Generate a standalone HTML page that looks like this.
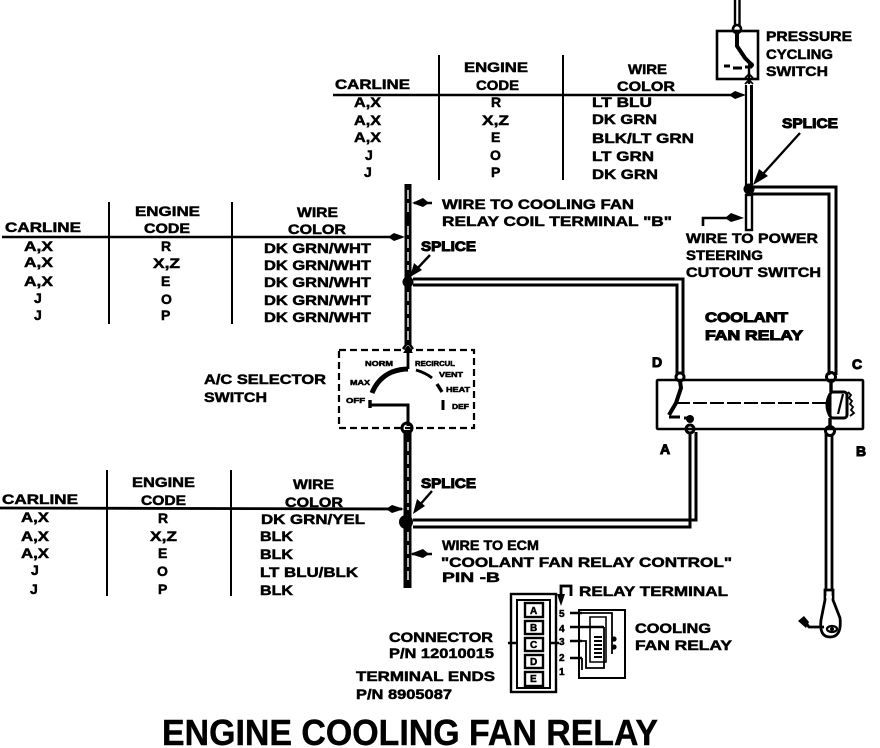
<!DOCTYPE html>
<html><head><meta charset="utf-8"><style>
html,body{margin:0;padding:0;background:#fff}
svg{display:block}
text{font-family:"Liberation Sans",sans-serif;font-weight:bold;font-size:14px;fill:#000;stroke:#000;stroke-width:.5}
.h{stroke-width:1}
line,path,rect,polyline,circle,ellipse{stroke:#000;fill:none}
.f{fill:#000;stroke:none}
</style></head><body>
<svg width="880" height="748" viewBox="0 0 880 748" xmlns="http://www.w3.org/2000/svg">
<!-- TOP TABLE -->
<g>
<line x1="333" y1="95" x2="742" y2="95" stroke-width="2.4"/>
<line x1="439" y1="55" x2="439" y2="180" stroke-width="2"/>
<line x1="563" y1="55" x2="563" y2="180" stroke-width="2"/>
<text x="335" y="89" textLength="75" lengthAdjust="spacingAndGlyphs">CARLINE</text>
<text x="464" y="72" textLength="64" lengthAdjust="spacingAndGlyphs">ENGINE</text>
<text x="476" y="90" textLength="43" lengthAdjust="spacingAndGlyphs">CODE</text>
<text x="628" y="74" textLength="39" lengthAdjust="spacingAndGlyphs">WIRE</text>
<text x="617" y="91" textLength="58" lengthAdjust="spacingAndGlyphs">COLOR</text>
<text x="354" y="107" textLength="27" lengthAdjust="spacingAndGlyphs">A,X</text>
<text x="354" y="125" textLength="27" lengthAdjust="spacingAndGlyphs">A,X</text>
<text x="354" y="142" textLength="27" lengthAdjust="spacingAndGlyphs">A,X</text>
<text x="365" y="160">J</text><text x="364" y="177">J</text>
<text x="491" y="107">R</text>
<text x="482" y="125" textLength="27" lengthAdjust="spacingAndGlyphs">X,Z</text>
<text x="491" y="142">E</text><text x="490" y="160">O</text><text x="491" y="177">P</text>
<text x="592" y="107" textLength="60" lengthAdjust="spacingAndGlyphs">LT BLU</text>
<text x="592" y="124" textLength="65" lengthAdjust="spacingAndGlyphs">DK GRN</text>
<text x="592" y="143" textLength="102" lengthAdjust="spacingAndGlyphs">BLK/LT GRN</text>
<text x="592" y="161" textLength="62" lengthAdjust="spacingAndGlyphs">LT GRN</text>
<text x="592" y="179" textLength="66" lengthAdjust="spacingAndGlyphs">DK GRN</text>
</g>
<!-- MIDDLE TABLE -->
<g>
<line x1="2" y1="237" x2="402" y2="237" stroke-width="2.4"/>
<line x1="109" y1="202" x2="109" y2="324" stroke-width="2"/>
<line x1="232" y1="202" x2="232" y2="324" stroke-width="2"/>
<text x="5" y="232" textLength="76" lengthAdjust="spacingAndGlyphs">CARLINE</text>
<text x="135" y="216" textLength="65" lengthAdjust="spacingAndGlyphs">ENGINE</text>
<text x="144" y="233" textLength="46" lengthAdjust="spacingAndGlyphs">CODE</text>
<text x="297" y="217" textLength="41" lengthAdjust="spacingAndGlyphs">WIRE</text>
<text x="288" y="234" textLength="58" lengthAdjust="spacingAndGlyphs">COLOR</text>
<text x="24" y="251" textLength="29" lengthAdjust="spacingAndGlyphs">A,X</text>
<text x="24" y="267" textLength="29" lengthAdjust="spacingAndGlyphs">A,X</text>
<text x="24" y="286" textLength="29" lengthAdjust="spacingAndGlyphs">A,X</text>
<text x="34" y="303">J</text><text x="34" y="320">J</text>
<text x="161" y="251">R</text>
<text x="153" y="268" textLength="27" lengthAdjust="spacingAndGlyphs">X,Z</text>
<text x="161" y="286">E</text><text x="161" y="304">O</text><text x="161" y="320">P</text>
<text x="264" y="253" textLength="107" lengthAdjust="spacingAndGlyphs">DK GRN/WHT</text>
<text x="264" y="270" textLength="107" lengthAdjust="spacingAndGlyphs">DK GRN/WHT</text>
<text x="264" y="287" textLength="107" lengthAdjust="spacingAndGlyphs">DK GRN/WHT</text>
<text x="264" y="305" textLength="107" lengthAdjust="spacingAndGlyphs">DK GRN/WHT</text>
<text x="264" y="322" textLength="107" lengthAdjust="spacingAndGlyphs">DK GRN/WHT</text>
</g>
<!-- BOTTOM TABLE -->
<g>
<line x1="0" y1="508" x2="402" y2="509" stroke-width="2.8"/>
<line x1="107" y1="470" x2="107" y2="596" stroke-width="2"/>
<line x1="231" y1="470" x2="231" y2="596" stroke-width="2"/>
<text x="2" y="504" textLength="76" lengthAdjust="spacingAndGlyphs">CARLINE</text>
<text x="132" y="487" textLength="63" lengthAdjust="spacingAndGlyphs">ENGINE</text>
<text x="141" y="505" textLength="45" lengthAdjust="spacingAndGlyphs">CODE</text>
<text x="293" y="489" textLength="41" lengthAdjust="spacingAndGlyphs">WIRE</text>
<text x="285" y="507" textLength="58" lengthAdjust="spacingAndGlyphs">COLOR</text>
<text x="21" y="522" textLength="28" lengthAdjust="spacingAndGlyphs">A,X</text>
<text x="21" y="541" textLength="28" lengthAdjust="spacingAndGlyphs">A,X</text>
<text x="21" y="558" textLength="28" lengthAdjust="spacingAndGlyphs">A,X</text>
<text x="31" y="575">J</text><text x="30" y="594">J</text>
<text x="158" y="523">R</text>
<text x="150" y="541" textLength="27" lengthAdjust="spacingAndGlyphs">X,Z</text>
<text x="158" y="558">E</text><text x="157" y="576">O</text><text x="158" y="594">P</text>
<text x="261" y="524" textLength="104" lengthAdjust="spacingAndGlyphs">DK GRN/YEL</text>
<text x="260" y="541" textLength="33" lengthAdjust="spacingAndGlyphs">BLK</text>
<text x="260" y="559" textLength="33" lengthAdjust="spacingAndGlyphs">BLK</text>
<text x="260" y="577" textLength="98" lengthAdjust="spacingAndGlyphs">LT BLU/BLK</text>
<text x="260" y="595" textLength="33" lengthAdjust="spacingAndGlyphs">BLK</text>
</g>
<!-- table arrowheads -->
<polygon class="f" points="729,95 735,91 746,95 735,99"/>
<polygon class="f" points="388,237 394,233 405,237 394,241"/>
<polygon class="f" points="386,509 392,505 404,509 392,513"/>
<!-- PRESSURE SWITCH -->
<rect x="717" y="31" width="41" height="48" stroke-width="2.6"/>
<line x1="735" y1="0" x2="735" y2="26" stroke-width="2.4"/><line x1="739.5" y1="0" x2="739.5" y2="26" stroke-width="2.4"/>
<circle cx="737" cy="29" r="4" stroke-width="2.6"/>
<path d="M737 34 L737 46 L745 58 L751 64" stroke-width="4"/>
<circle cx="751" cy="65" r="3" class="f"/>
<path d="M724 66 H730 M733 68 H742 M745 67 H752" stroke-width="3"/>
<line x1="749" y1="66" x2="749" y2="84" stroke-width="2.4"/>
<path d="M745 78 L749 74 L753 78 M745 84 L749 80 L753 84" stroke-width="1.8"/>
<text x="766" y="41" textLength="86" lengthAdjust="spacingAndGlyphs">PRESSURE</text>
<text x="766" y="59" textLength="67" lengthAdjust="spacingAndGlyphs">CYCLING</text>
<text x="766" y="76" textLength="62" lengthAdjust="spacingAndGlyphs">SWITCH</text>
<!-- Right vertical wire pair -->
<line x1="746" y1="85" x2="746" y2="185" stroke-width="2.2"/>
<line x1="751.5" y1="85" x2="751.5" y2="185" stroke-width="3"/>
<circle cx="749" cy="189" r="5.5" class="f"/>
<rect x="746" y="195" width="6" height="35" stroke-width="2.4"/>
<!-- splice top -->
<text x="782" y="128" class="h" font-size="15" textLength="56" lengthAdjust="spacingAndGlyphs">SPLICE</text>
<line x1="800" y1="133" x2="762" y2="175" stroke-width="2.4"/>
<polygon class="f" points="753,185 759,169 768,176"/>
<!-- wire to C -->
<path d="M752 187 H836 V375" stroke-width="3"/>
<path d="M752 194 H829 V375" stroke-width="3"/>
<!-- Wire to power steering -->
<path d="M703 226 V218 H738" stroke-width="2.6"/>
<polygon class="f" points="725,218 731,213 744,218 731,222"/>
<text x="686" y="243" textLength="132" lengthAdjust="spacingAndGlyphs">WIRE TO POWER</text>
<text x="686" y="260" textLength="77" lengthAdjust="spacingAndGlyphs">STEERING</text>
<text x="686" y="277" textLength="135" lengthAdjust="spacingAndGlyphs">CUTOUT SWITCH</text>
<!-- Left main wire -->
<rect x="404.5" y="184" width="7" height="161" class="f"/>
<path d="M403 349 L408 342 L413 349" stroke-width="2.4"/>
<polygon class="f" points="404,350 408,345 412,350"/>
<rect x="403.5" y="430" width="8" height="158" class="f"/>
<circle cx="408" cy="282" r="5.5" class="f"/>
<circle cx="406" cy="522" r="7" class="f"/>
<circle cx="407" cy="428" r="5" stroke-width="3"/>
<!-- hatch to suggest heavy wires -->
<path d="M408 190 V215 M408 226 V270 M408 292 V340 M408 442 V510 M408 532 V580" style="stroke:#fff;stroke-width:1.4;stroke-dasharray:9 4"/>
<line x1="414" y1="203" x2="432" y2="203" stroke-width="2.4"/>
<polygon class="f" points="412,203 423,198 429,203 423,207"/>
<text x="442" y="209" textLength="192" lengthAdjust="spacingAndGlyphs">WIRE TO COOLING FAN</text>
<text x="442" y="226" textLength="230" lengthAdjust="spacingAndGlyphs">RELAY COIL TERMINAL "B"</text>
<text x="421" y="251" class="h" textLength="55" lengthAdjust="spacingAndGlyphs">SPLICE</text>
<line x1="430" y1="255" x2="414" y2="272" stroke-width="2.4"/>
<polygon class="f" points="410,277 414,263 422,270"/>
<!-- wire to D -->
<path d="M413 279 H683 V375" stroke-width="3"/>
<path d="M413 285 H677 V375" stroke-width="3"/>
<!-- A/C switch -->
<rect x="339" y="350" width="135" height="78" stroke-width="2.2" stroke-dasharray="7 4"/>
<text x="204" y="384" textLength="122" lengthAdjust="spacingAndGlyphs">A/C SELECTOR</text>
<text x="204" y="402" textLength="63" lengthAdjust="spacingAndGlyphs">SWITCH</text>
<g>
<text x="365" y="366" style="font-size:7px" textLength="28" lengthAdjust="spacingAndGlyphs">NORM</text>
<text x="415" y="366" style="font-size:7px" textLength="40" lengthAdjust="spacingAndGlyphs">RECIRCUL</text>
<text x="439" y="377" style="font-size:7px" textLength="24" lengthAdjust="spacingAndGlyphs">VENT</text>
<text x="350" y="385" style="font-size:7px" textLength="20" lengthAdjust="spacingAndGlyphs">MAX</text>
<text x="446" y="392" style="font-size:7px" textLength="24" lengthAdjust="spacingAndGlyphs">HEAT</text>
<text x="346" y="403" style="font-size:7px" textLength="19" lengthAdjust="spacingAndGlyphs">OFF</text>
<text x="452" y="409" style="font-size:7px" textLength="17" lengthAdjust="spacingAndGlyphs">DEF</text>
</g>
<path d="M372 393 Q378 378 392 372 Q400 369 408 369" stroke-width="5"/>
<path d="M416 370 Q426 373 432 378" stroke-width="3"/>
<path d="M437 384 L442 392" stroke-width="3.4"/>
<line x1="408" y1="369" x2="408" y2="350" stroke-width="2.8"/>
<polygon class="f" points="403,353 408,346 413,353"/>
<line x1="443" y1="400" x2="443" y2="410" stroke-width="3"/>
<path d="M369 405 H408 V426" stroke-width="3"/>
<line x1="370" y1="400" x2="370" y2="408" stroke-width="3.4"/>
<!-- bottom splice -->
<text x="421" y="488" class="h" textLength="55" lengthAdjust="spacingAndGlyphs">SPLICE</text>
<line x1="432" y1="491" x2="418" y2="507" stroke-width="2.4"/>
<polygon class="f" points="413,514 417,499 425,506"/>
<!-- wire to A -->
<path d="M413 520 H696 V432" stroke-width="3"/>
<path d="M413 527 H690 V432" stroke-width="3"/>
<!-- wire to ECM -->
<line x1="412" y1="554" x2="432" y2="554" stroke-width="2.4"/>
<polygon class="f" points="410,554 423,549 429,554 423,558"/>
<text x="442" y="550" textLength="97" lengthAdjust="spacingAndGlyphs">WIRE TO ECM</text>
<text x="441" y="567" textLength="291" lengthAdjust="spacingAndGlyphs">"COOLANT FAN RELAY CONTROL"</text>
<text x="442" y="582" textLength="58" lengthAdjust="spacingAndGlyphs">PIN -B</text>
<!-- RELAY -->
<text x="705" y="322" class="h" textLength="83" lengthAdjust="spacingAndGlyphs">COOLANT</text>
<text x="705" y="340" class="h" textLength="98" lengthAdjust="spacingAndGlyphs">FAN RELAY</text>
<text x="652" y="367" class="h">D</text>
<text x="852" y="369" class="h">C</text>
<text x="660" y="454" class="h">A</text>
<text x="856" y="456" class="h">B</text>
<rect x="657" y="380" width="206" height="49" stroke-width="2.6" rx="1"/>
<circle cx="680" cy="377" r="4" stroke-width="3"/>
<circle cx="831" cy="377" r="4.5" stroke-width="3"/>
<circle cx="690" cy="429" r="4" stroke-width="3"/>
<circle cx="830" cy="431" r="4.5" stroke-width="3"/>
<path d="M680 381 L681 388 L676 403 L669 415" stroke-width="4"/>
<path d="M669 417 H680 M684 418 H690" stroke-width="3"/>
<circle cx="690" cy="419" r="4" class="f"/>
<line x1="676" y1="403" x2="828" y2="403" stroke-width="2" stroke-dasharray="14 3"/>
<path d="M831 382 V392 M830 418 V426" stroke-width="3.4"/>
<rect x="830" y="392" width="17" height="26" rx="3" stroke-width="3"/>
<path d="M830 394 Q824 405 830 416" stroke-width="3"/>
<line x1="843" y1="394" x2="838" y2="414" stroke-width="2.2"/>
<path d="M848 392 l3 3 l-2 3 l3 3 l-2 3 l3 3 l-2 3 l3 3 l-4 3" stroke-width="1.8"/>
<!-- wire to ground -->
<line x1="826" y1="434" x2="826" y2="590" stroke-width="2.8"/>
<line x1="832" y1="434" x2="832" y2="590" stroke-width="2.8"/>
<path d="M825 590 H833 V600 L840 618 Q842 637 830 637 Q819 637 821 620 L825 600 Z" stroke-width="2.8"/>
<circle cx="829" cy="597" r="3" style="fill:#fff;stroke:none"/>
<ellipse cx="832" cy="629" rx="5" ry="3" stroke-width="2.2"/>
<circle cx="832" cy="629" r="2" class="f"/>
<path d="M806 623 L809 627 H824" stroke-width="2.8"/>
<polygon class="f" points="798,621 804,616 809,622 806,628"/>
<!-- Connector -->
<rect x="511" y="594" width="45" height="98" stroke-width="2.4"/>
<rect x="517" y="600" width="33" height="88" stroke-width="2"/>
<g stroke-width="2.4">
<rect x="525" y="603" width="18" height="14"/>
<rect x="525" y="621" width="18" height="13"/>
<rect x="525" y="638" width="18" height="13"/>
<rect x="525" y="655" width="18" height="13"/>
<rect x="525" y="672" width="18" height="14"/>
</g>
<g>
<text x="530" y="614" style="font-size:10px">A</text>
<text x="530" y="631" style="font-size:10px">B</text>
<text x="530" y="648" style="font-size:10px">C</text>
<text x="530" y="665" style="font-size:10px">D</text>
<text x="530" y="682" style="font-size:10px">E</text>
</g>
<path d="M508 643 H517 M550 643 H559" stroke-width="2.4"/>
<!-- Relay terminal pinout -->
<path d="M561 602 V586 H571 V596" stroke-width="2.8"/>
<polygon class="f" points="557,594 565,594 561,606"/>
<text x="579" y="596" textLength="149" lengthAdjust="spacingAndGlyphs">RELAY TERMINAL</text>
<g>
<text x="559" y="617" style="font-size:10px">5</text>
<text x="559" y="632" style="font-size:10px">4</text>
<text x="559" y="645" style="font-size:10px">3</text>
<text x="559" y="661" style="font-size:10px">2</text>
<text x="559" y="675" style="font-size:10px">1</text>
</g>
<rect x="579" y="610" width="46" height="68" stroke-width="2"/>
<path d="M570 613 H582 M570 627 H604 M570 641 H582 M570 658 H582" stroke-width="2.4"/>
<path d="M582 613 H612 V654 M604 627 V668 H586 V641 H582 M582 658 V670" stroke-width="1.8"/>
<path d="M590 617 H606 V662 H590 Z" stroke-width="1.6"/>
<path d="M594 637 H602 M594 641 H602 M594 645 H602 M594 649 H602 M594 653 H602 M594 657 H602" stroke-width="2"/>
<circle cx="614" cy="639" r="2.6" class="f"/><circle cx="614" cy="647" r="2.6" class="f"/>
<text x="635" y="633" textLength="76" lengthAdjust="spacingAndGlyphs">COOLING</text>
<text x="635" y="650" textLength="97" lengthAdjust="spacingAndGlyphs">FAN RELAY</text>
<text x="389" y="642" textLength="104" lengthAdjust="spacingAndGlyphs">CONNECTOR</text>
<text x="389" y="658" textLength="105" lengthAdjust="spacingAndGlyphs">P/N 12010015</text>
<text x="356" y="681" textLength="139" lengthAdjust="spacingAndGlyphs">TERMINAL ENDS</text>
<text x="356" y="699" textLength="96" lengthAdjust="spacingAndGlyphs">P/N 8905087</text>
<!-- Title -->
<text x="162" y="745" style="font-size:36px;stroke-width:.4" textLength="496" lengthAdjust="spacingAndGlyphs">ENGINE COOLING FAN RELAY</text>
</svg>
</body></html>
